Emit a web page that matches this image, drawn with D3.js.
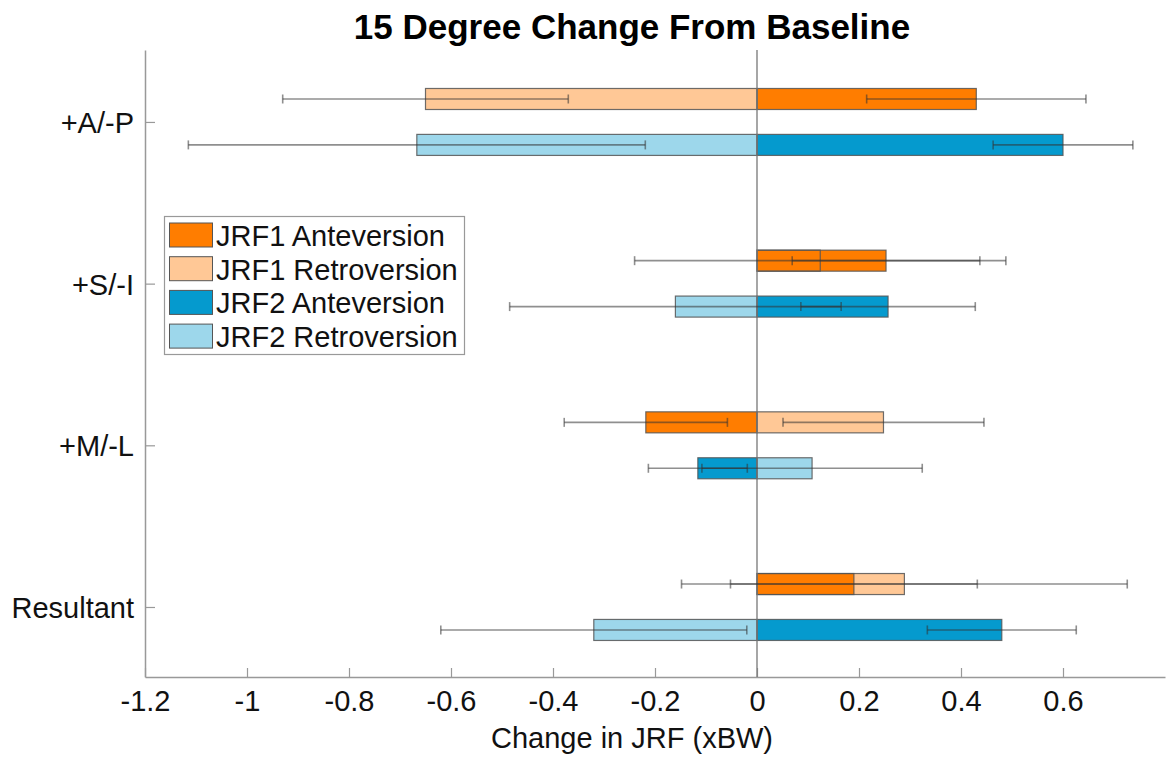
<!DOCTYPE html>
<html>
<head>
<meta charset="utf-8">
<script src="https://cdn.jsdelivr.net/npm/d3@7"></script>
<style>
  body { margin: 0; background: #fff; }
  svg { font-family: "Liberation Sans", Arial, sans-serif; }
</style>
</head>
<body>
<svg id="chart" width="1168" height="760"></svg>
<script>
// values (xBW)
const categories = ["+A/-P", "+S/-I", "+M/-L", "Resultant"];
const jrf1Ante = [0.43, 0.253, -0.218, 0.19];
const jrf1AnteErr = [0.215, 0.184, 0.16, 0.242];
const jrf1Retro = [-0.65, 0.124, 0.248, 0.289];
const jrf1RetroErr = [0.28, 0.364, 0.197, 0.437];
const jrf2Ante = [0.60, 0.257, -0.116, 0.48];
const jrf2AnteErr = [0.137, 0.171, 0.097, 0.146];
const jrf2Retro = [-0.667, -0.16, 0.108, -0.32];
const jrf2RetroErr = [0.448, 0.325, 0.216, 0.30];
const xTicks = [-1.2, -1, -0.8, -0.6, -0.4, -0.2, 0, 0.2, 0.4, 0.6];
const seriesNames = ["JRF1 Anteversion", "JRF1 Retroversion", "JRF2 Anteversion", "JRF2 Retroversion"];
const seriesColors = ["#ff7d00", "#ffc896", "#059ace", "#9dd7eb"];

const svg = d3.select("#chart");

const x = d3.scaleLinear().domain([-1.2, 0.8]).range([145, 1165]);
const y = d3.scaleLinear().domain([-0.445, 3.433]).range([50, 677]);
const rowOff = 0.142, barH = y(0.13) - y(0);

// series table: row -1 = JRF1 (above category), row 1 = JRF2 (below)
const series = [
    {name: seriesNames[1], vals: jrf1Retro, err: jrf1RetroErr, color: seriesColors[1], row: -1},
    {name: seriesNames[0], vals: jrf1Ante, err: jrf1AnteErr, color: seriesColors[0], row: -1},
    {name: seriesNames[3], vals: jrf2Retro, err: jrf2RetroErr, color: seriesColors[3], row: 1},
    {name: seriesNames[2], vals: jrf2Ante, err: jrf2AnteErr, color: seriesColors[2], row: 1}
];
const marks = [];
series.forEach(s => s.vals.forEach((v, i) => marks.push({v: v, e: s.err[i], color: s.color, yc: y(i + s.row * rowOff)})));

// axes
const xAxis = svg.append("g").attr("transform", "translate(0,677)")
    .call(d3.axisBottom(x).tickValues(xTicks).tickSizeInner(-9).tickSizeOuter(0).tickPadding(13)
        .tickFormat(d => String(+d.toFixed(1))));
const yAxis = svg.append("g").attr("transform", "translate(145,0)")
    .call(d3.axisLeft(y).tickValues([0, 1, 2, 3]).tickSizeInner(-10).tickSizeOuter(0).tickPadding(11)
        .tickFormat(i => categories[i]));
[xAxis, yAxis].forEach(a => {
    a.select(".domain").attr("stroke", "#999").attr("stroke-width", 1.5);
    a.selectAll(".tick line").attr("stroke", "#999").attr("stroke-width", 1.2);
    a.selectAll(".tick text").attr("fill", "#111").style("font-size", "29px");
});
xAxis.selectAll(".tick text").attr("dy", "0.72em");
yAxis.selectAll(".tick text").attr("dy", "0.36em");

// bars: fills, then outlines on top
svg.append("g").selectAll("rect").data(marks).enter().append("rect")
    .attr("x", d => x(Math.min(0, d.v))).attr("y", d => d.yc - barH / 2)
    .attr("width", d => Math.abs(x(d.v) - x(0))).attr("height", barH)
    .attr("fill", d => d.color);
svg.append("g").selectAll("rect").data(marks).enter().append("rect")
    .attr("x", d => x(Math.min(0, d.v))).attr("y", d => d.yc - barH / 2)
    .attr("width", d => Math.abs(x(d.v) - x(0))).attr("height", barH)
    .attr("fill", "none").attr("stroke", "#555").attr("stroke-opacity", 0.85).attr("stroke-width", 1.2);

// zero line
svg.append("line").attr("x1", x(0)).attr("x2", x(0)).attr("y1", 50).attr("y2", 677)
    .attr("stroke", "#777").attr("stroke-width", 1.3);

// error bars
const eb = svg.append("g").attr("stroke", "#333").attr("stroke-opacity", 0.55).attr("stroke-width", 1.6);
marks.forEach(d => {
    eb.append("line").attr("x1", x(d.v - d.e)).attr("x2", x(d.v + d.e)).attr("y1", d.yc).attr("y2", d.yc);
    [d.v - d.e, d.v + d.e].forEach(t => eb.append("line").attr("x1", x(t)).attr("x2", x(t)).attr("y1", d.yc - 4.5).attr("y2", d.yc + 4.5));
});

// legend
const lg = svg.append("g");
lg.append("rect").attr("x", 164.5).attr("y", 216.5).attr("width", 300).attr("height", 138)
    .attr("fill", "#fff").attr("stroke", "#999").attr("stroke-width", 1.2);
seriesNames.forEach((n, i) => {
    const yy = 223 + i * 33.7;
    lg.append("rect").attr("x", 169.5).attr("y", yy).attr("width", 43).attr("height", 24)
        .attr("fill", seriesColors[i]).attr("stroke", "#555").attr("stroke-width", 1);
    lg.append("text").attr("x", 216).attr("y", yy + 23).attr("fill", "#111")
        .style("font-size", "29px").text(n);
});

// title and axis label
svg.append("text").attr("x", 632).attr("y", 39).attr("text-anchor", "middle")
    .style("font-size", "35px").style("font-weight", "bold").attr("fill", "#000").text("15 Degree Change From Baseline");
svg.append("text").attr("x", 632).attr("y", 748).attr("text-anchor", "middle")
    .style("font-size", "29px").attr("fill", "#111").text("Change in JRF (xBW)");
</script>
</body>
</html>
